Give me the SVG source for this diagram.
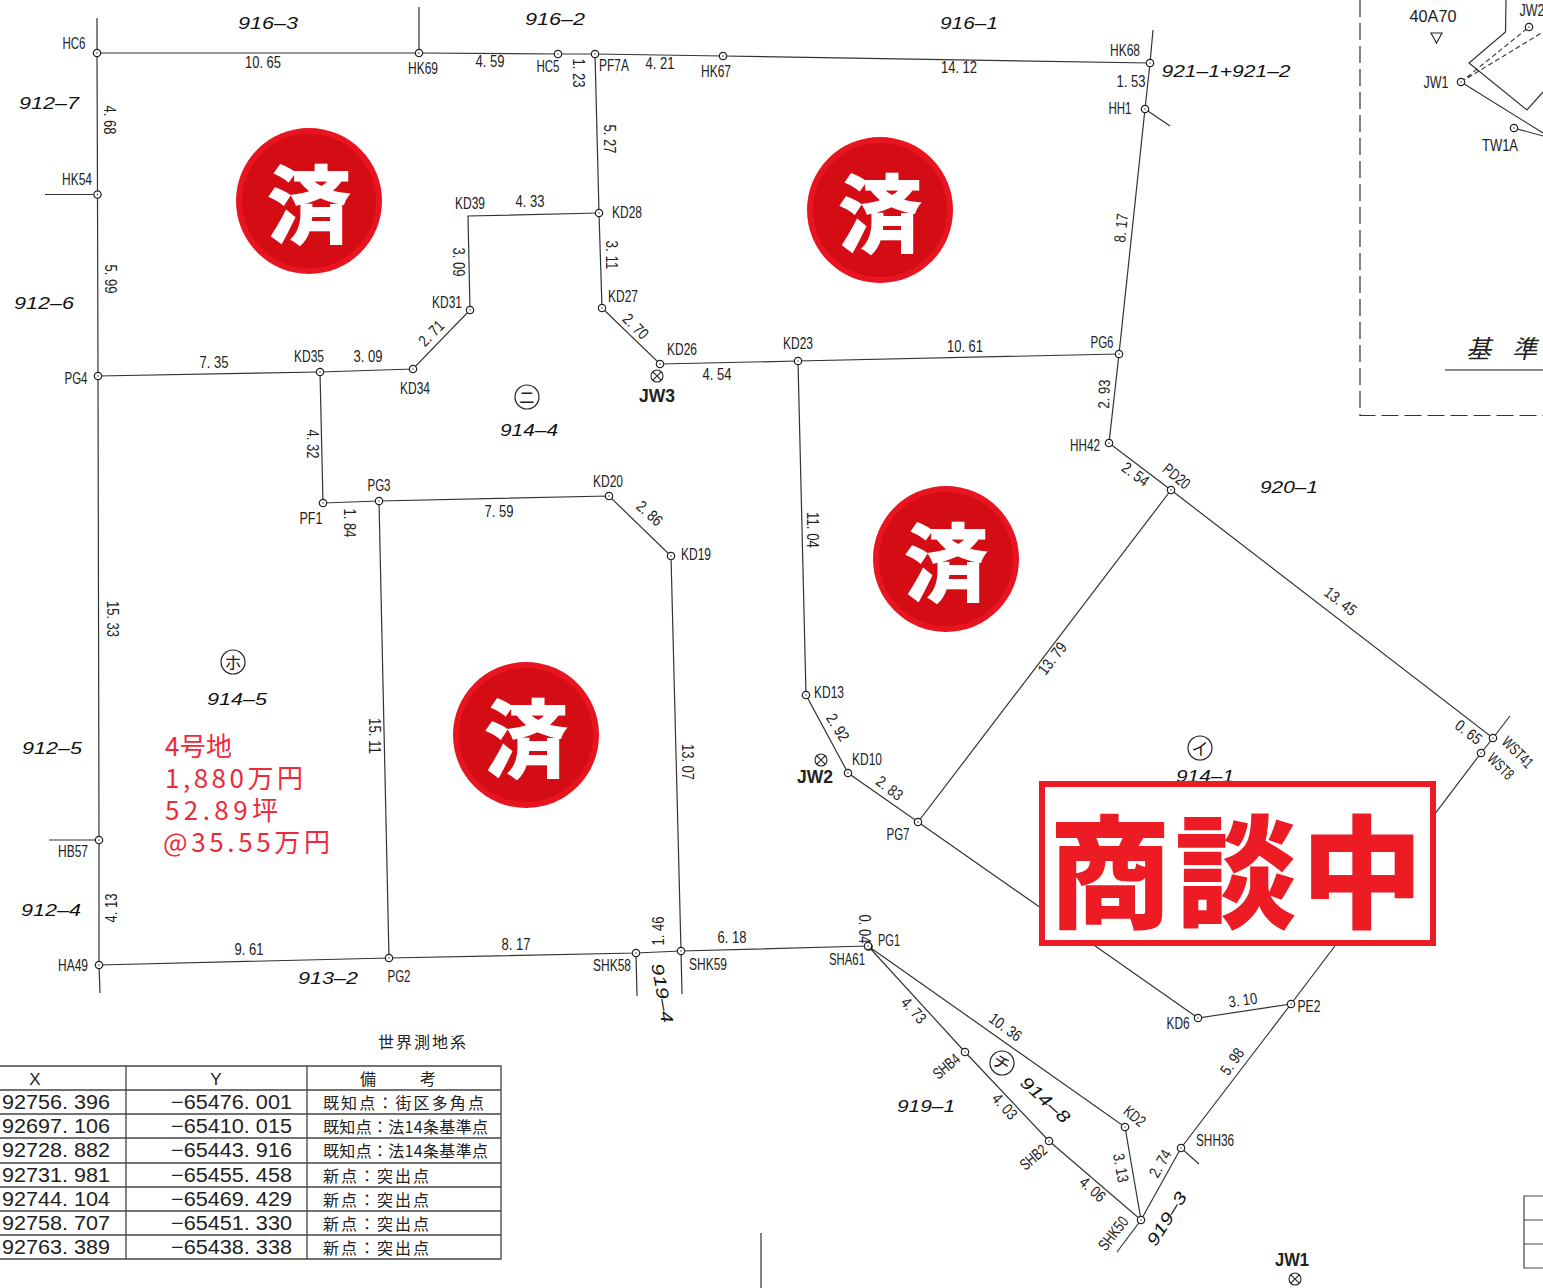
<svg xmlns="http://www.w3.org/2000/svg" xmlns:xlink="http://www.w3.org/1999/xlink" width="1543" height="1288" viewBox="0 0 1543 1288">
<style>
text{font-family:"Liberation Sans","Noto Sans CJK JP",sans-serif;fill:#222;dominant-baseline:central;text-anchor:middle}
.l,.d{font-size:16px;baseline-shift:1px}
.p{font-size:17px;font-style:italic;fill:#111}
.c{fill:none;stroke:#333;stroke-width:1.2}
.o{fill:#fff;stroke:#222;stroke-width:1.2}
.ci{font-size:17px;font-family:"Noto Sans CJK JP",sans-serif}
.cc{fill:#fff;stroke:#222;stroke-width:1.2}
.t{font-size:20px;fill:#222;text-anchor:start}
.r{font-size:16px;font-family:"Noto Sans CJK JP",sans-serif;text-anchor:start}
.red{font-size:26px;fill:#ee2a3a;font-family:"Noto Sans CJK JP",sans-serif;text-anchor:start}
.su{font-size:85px;font-weight:900;fill:#fff;font-family:"Noto Sans CJK JP",sans-serif}
.jw{font-size:18px;font-weight:bold;fill:#222}
.g{stroke:#333;stroke-width:1.2;fill:#fff}
</style>
<defs>
<g id="pt"><circle r="3.7" class="o"/><circle r="0.7" fill="#222"/></g>
<g id="x"><circle r="6" fill="#fff" stroke="#222" stroke-width="1.1"/><path d="M-4.2-4.2 4.2 4.2M-4.2 4.2 4.2-4.2" stroke="#222" stroke-width="1.1"/></g>
<g id="badge"><circle r="73" fill="#e8141f"/><circle r="67" fill="#d40d14"/></g>
</defs>
<rect width="1543" height="1288" fill="#fff"/>

<g id="connectors" class="c">
<polyline class="c" points="97,18 97,53 97.5,194.5 98,376 99,840 99,965 100,993"/>
<polyline class="c" points="97,53 419,53 558,54 595,54 723,56 1150,63"/>
<line class="c" x1="45" y1="194.5" x2="97" y2="194.5"/>
<line class="c" x1="49" y1="840" x2="99" y2="840"/>
<line class="c" x1="419" y1="7" x2="419" y2="53"/>
<polyline class="c" points="1153,30 1150,63 1145,109 1119,354 1109,443 1171,490 1493,738 1481,753 1291,1004 1181,1148 1141,1220 1117,1252"/>
<line class="c" x1="1145" y1="109" x2="1170" y2="126"/>
<line class="c" x1="1493" y1="738" x2="1510" y2="716"/>
<line class="c" x1="1181" y1="1148" x2="1199" y2="1164"/>
<polyline class="c" points="1171,490 918,822 848,773 806,695 798,361 1119,354"/>
<polyline class="c" points="918,822 1198,1018 1291,1004"/>
<polyline class="c" points="798,361 660,364 602,308 599,213 595,54"/>
<polyline class="c" points="599,213 468,216 470,310 413,369 320,372 98,376"/>
<polyline class="c" points="320,372 323,503 379,501 609,496 671,556 681,951 682,994"/>
<polyline class="c" points="379,501 389,958"/>
<polyline class="c" points="99,965 389,958 636,953 681,951 868,946"/>
<line class="c" x1="636" y1="953" x2="637" y2="996"/>
<polyline class="c" points="868,946 965,1052 1049,1141 1141,1220 1125,1127 868,946"/>
<line class="c" x1="761" y1="1233" x2="761" y2="1288"/>
</g>

<g id="nodes">
<g id="n-HC6"><use href="#pt" x="97" y="53"/><text class="l" x="74" y="44" textLength="23" lengthAdjust="spacingAndGlyphs">HC6</text></g>
<g id="n-HK54"><use href="#pt" x="97.5" y="194.5"/><text class="l" x="77" y="180" textLength="30" lengthAdjust="spacingAndGlyphs">HK54</text></g>
<g id="n-PG4"><use href="#pt" x="98" y="376"/><text class="l" x="76" y="379" textLength="23" lengthAdjust="spacingAndGlyphs">PG4</text></g>
<g id="n-HB57"><use href="#pt" x="99" y="840"/><text class="l" x="73" y="852" textLength="30" lengthAdjust="spacingAndGlyphs">HB57</text></g>
<g id="n-HA49"><use href="#pt" x="99" y="965"/><text class="l" x="73" y="966" textLength="30" lengthAdjust="spacingAndGlyphs">HA49</text></g>
<g id="n-HK69"><use href="#pt" x="419" y="53"/><text class="l" x="423" y="69" textLength="30" lengthAdjust="spacingAndGlyphs">HK69</text></g>
<g id="n-HC5"><use href="#pt" x="558" y="54"/><text class="l" x="548" y="67" textLength="23" lengthAdjust="spacingAndGlyphs">HC5</text></g>
<g id="n-PF7A"><use href="#pt" x="595" y="54"/><text class="l" x="614" y="66" textLength="30" lengthAdjust="spacingAndGlyphs">PF7A</text></g>
<g id="n-HK67"><use href="#pt" x="723" y="56"/><text class="l" x="716" y="72" textLength="30" lengthAdjust="spacingAndGlyphs">HK67</text></g>
<g id="n-HK68"><use href="#pt" x="1150" y="63"/><text class="l" x="1125" y="51" textLength="30" lengthAdjust="spacingAndGlyphs">HK68</text></g>
<g id="n-HH1"><use href="#pt" x="1145" y="109"/><text class="l" x="1120" y="109" textLength="23" lengthAdjust="spacingAndGlyphs">HH1</text></g>
<g id="n-PG6"><use href="#pt" x="1119" y="354"/><text class="l" x="1102" y="343" textLength="23" lengthAdjust="spacingAndGlyphs">PG6</text></g>
<g id="n-HH42"><use href="#pt" x="1109" y="443"/><text class="l" x="1085" y="446" textLength="30" lengthAdjust="spacingAndGlyphs">HH42</text></g>
<g id="n-PD20"><use href="#pt" x="1171" y="490"/><text class="l" transform="translate(1176 477) rotate(40)" textLength="30" lengthAdjust="spacingAndGlyphs">PD20</text></g>
<g id="n-WST41"><use href="#pt" x="1493" y="738"/><text class="l" transform="translate(1517 753) rotate(45)" textLength="37" lengthAdjust="spacingAndGlyphs">WST41</text></g>
<g id="n-WST8"><use href="#pt" x="1481" y="753"/><text class="l" transform="translate(1500 767) rotate(45)" textLength="30" lengthAdjust="spacingAndGlyphs">WST8</text></g>
<g id="n-PE2"><use href="#pt" x="1291" y="1004"/><text class="l" x="1309" y="1007" textLength="23" lengthAdjust="spacingAndGlyphs">PE2</text></g>
<g id="n-KD6"><use href="#pt" x="1198" y="1018"/><text class="l" x="1178" y="1024" textLength="23" lengthAdjust="spacingAndGlyphs">KD6</text></g>
<g id="n-PG7"><use href="#pt" x="918" y="822"/><text class="l" x="898" y="835" textLength="23" lengthAdjust="spacingAndGlyphs">PG7</text></g>
<g id="n-KD10"><use href="#pt" x="848" y="773"/><text class="l" x="867" y="760" textLength="30" lengthAdjust="spacingAndGlyphs">KD10</text></g>
<g id="n-KD13"><use href="#pt" x="806" y="695"/><text class="l" x="829" y="693" textLength="30" lengthAdjust="spacingAndGlyphs">KD13</text></g>
<g id="n-KD23"><use href="#pt" x="798" y="361"/><text class="l" x="798" y="344" textLength="30" lengthAdjust="spacingAndGlyphs">KD23</text></g>
<g id="n-KD26"><use href="#pt" x="660" y="364"/><text class="l" x="682" y="350" textLength="30" lengthAdjust="spacingAndGlyphs">KD26</text></g>
<g id="n-KD27"><use href="#pt" x="602" y="308"/><text class="l" x="623" y="297" textLength="30" lengthAdjust="spacingAndGlyphs">KD27</text></g>
<g id="n-KD28"><use href="#pt" x="599" y="213"/><text class="l" x="627" y="213" textLength="30" lengthAdjust="spacingAndGlyphs">KD28</text></g>
<g id="n-KD39"><text class="l" x="470" y="204" textLength="30" lengthAdjust="spacingAndGlyphs">KD39</text></g>
<g id="n-KD31"><use href="#pt" x="470" y="310"/><text class="l" x="447" y="303" textLength="30" lengthAdjust="spacingAndGlyphs">KD31</text></g>
<g id="n-KD34"><use href="#pt" x="413" y="369"/><text class="l" x="415" y="389" textLength="30" lengthAdjust="spacingAndGlyphs">KD34</text></g>
<g id="n-KD35"><use href="#pt" x="320" y="372"/><text class="l" x="309" y="357" textLength="30" lengthAdjust="spacingAndGlyphs">KD35</text></g>
<g id="n-PF1"><use href="#pt" x="323" y="503"/><text class="l" x="311" y="519" textLength="23" lengthAdjust="spacingAndGlyphs">PF1</text></g>
<g id="n-PG3"><use href="#pt" x="379" y="501"/><text class="l" x="379" y="486" textLength="23" lengthAdjust="spacingAndGlyphs">PG3</text></g>
<g id="n-KD20"><use href="#pt" x="609" y="496"/><text class="l" x="608" y="482" textLength="30" lengthAdjust="spacingAndGlyphs">KD20</text></g>
<g id="n-KD19"><use href="#pt" x="671" y="556"/><text class="l" x="696" y="555" textLength="30" lengthAdjust="spacingAndGlyphs">KD19</text></g>
<g id="n-SHK59"><use href="#pt" x="681" y="951"/><text class="l" x="708" y="965" textLength="38" lengthAdjust="spacingAndGlyphs">SHK59</text></g>
<g id="n-SHK58"><use href="#pt" x="636" y="953"/><text class="l" x="612" y="966" textLength="38" lengthAdjust="spacingAndGlyphs">SHK58</text></g>
<g id="n-PG2"><use href="#pt" x="389" y="958"/><text class="l" x="399" y="977" textLength="23" lengthAdjust="spacingAndGlyphs">PG2</text></g>
<g id="n-PG1"><use href="#pt" x="868.5" y="946.5"/><text class="l" x="889" y="941" textLength="22" lengthAdjust="spacingAndGlyphs">PG1</text></g>
<g id="n-SHA61"><use href="#pt" x="868" y="946"/><text class="l" x="847" y="960" textLength="36" lengthAdjust="spacingAndGlyphs">SHA61</text></g>
<g id="n-SHB4"><use href="#pt" x="965" y="1052"/><text class="l" transform="translate(947 1067) rotate(-40)" textLength="30" lengthAdjust="spacingAndGlyphs">SHB4</text></g>
<g id="n-SHB2"><use href="#pt" x="1049" y="1141"/><text class="l" transform="translate(1034 1158) rotate(-40)" textLength="30" lengthAdjust="spacingAndGlyphs">SHB2</text></g>
<g id="n-SHK50"><use href="#pt" x="1141" y="1220"/><text class="l" transform="translate(1114 1234) rotate(-52)" textLength="38" lengthAdjust="spacingAndGlyphs">SHK50</text></g>
<g id="n-KD2"><use href="#pt" x="1125" y="1127"/><text class="l" transform="translate(1134 1117) rotate(40)" textLength="23" lengthAdjust="spacingAndGlyphs">KD2</text></g>
<g id="n-SHH36"><use href="#pt" x="1181" y="1148"/><text class="l" x="1215" y="1141" textLength="38" lengthAdjust="spacingAndGlyphs">SHH36</text></g>
</g>

<g id="dimensions">
<text class="d" x="263" y="63" textLength="36" lengthAdjust="spacingAndGlyphs">10. 65</text>
<text class="d" x="490" y="62" textLength="29" lengthAdjust="spacingAndGlyphs">4. 59</text>
<text class="d" transform="translate(577 73) rotate(90)" textLength="29" lengthAdjust="spacingAndGlyphs">1. 23</text>
<text class="d" x="660" y="64" textLength="29" lengthAdjust="spacingAndGlyphs">4. 21</text>
<text class="d" x="959" y="68" textLength="36" lengthAdjust="spacingAndGlyphs">14. 12</text>
<text class="d" x="1131" y="82" textLength="29" lengthAdjust="spacingAndGlyphs">1. 53</text>
<text class="d" transform="translate(108 120) rotate(90)" textLength="29" lengthAdjust="spacingAndGlyphs">4. 68</text>
<text class="d" transform="translate(109 279) rotate(90)" textLength="29" lengthAdjust="spacingAndGlyphs">5. 99</text>
<text class="d" transform="translate(1122 228) rotate(-84)" textLength="29" lengthAdjust="spacingAndGlyphs">8. 17</text>
<text class="d" transform="translate(608 139) rotate(90)" textLength="29" lengthAdjust="spacingAndGlyphs">5. 27</text>
<text class="d" x="530" y="202" textLength="29" lengthAdjust="spacingAndGlyphs">4. 33</text>
<text class="d" transform="translate(457 262) rotate(90)" textLength="29" lengthAdjust="spacingAndGlyphs">3. 09</text>
<text class="d" transform="translate(610 255) rotate(90)" textLength="29" lengthAdjust="spacingAndGlyphs">3. 11</text>
<text class="d" transform="translate(635 327) rotate(45)" textLength="29" lengthAdjust="spacingAndGlyphs">2. 70</text>
<text class="d" transform="translate(432 334) rotate(-45)" textLength="29" lengthAdjust="spacingAndGlyphs">2. 71</text>
<text class="d" x="214" y="363" textLength="29" lengthAdjust="spacingAndGlyphs">7. 35</text>
<text class="d" x="368" y="357" textLength="29" lengthAdjust="spacingAndGlyphs">3. 09</text>
<text class="d" x="717" y="375" textLength="29" lengthAdjust="spacingAndGlyphs">4. 54</text>
<text class="d" x="965" y="347" textLength="36" lengthAdjust="spacingAndGlyphs">10. 61</text>
<text class="d" transform="translate(1105 394) rotate(-88)" textLength="29" lengthAdjust="spacingAndGlyphs">2. 93</text>
<text class="d" transform="translate(1135 475) rotate(36)" textLength="29" lengthAdjust="spacingAndGlyphs">2. 54</text>
<text class="d" transform="translate(1340 602) rotate(38)" textLength="36" lengthAdjust="spacingAndGlyphs">13. 45</text>
<text class="d" transform="translate(1468 733) rotate(38)" textLength="29" lengthAdjust="spacingAndGlyphs">0. 65</text>
<text class="d" transform="translate(311 444) rotate(90)" textLength="29" lengthAdjust="spacingAndGlyphs">4. 32</text>
<text class="d" transform="translate(348 523) rotate(90)" textLength="29" lengthAdjust="spacingAndGlyphs">1. 84</text>
<text class="d" x="499" y="512" textLength="29" lengthAdjust="spacingAndGlyphs">7. 59</text>
<text class="d" transform="translate(649 514) rotate(42)" textLength="29" lengthAdjust="spacingAndGlyphs">2. 86</text>
<text class="d" transform="translate(811 530) rotate(90)" textLength="36" lengthAdjust="spacingAndGlyphs">11. 04</text>
<text class="d" transform="translate(686 762) rotate(90)" textLength="36" lengthAdjust="spacingAndGlyphs">13. 07</text>
<text class="d" transform="translate(373 736) rotate(90)" textLength="36" lengthAdjust="spacingAndGlyphs">15. 11</text>
<text class="d" transform="translate(111 619) rotate(90)" textLength="36" lengthAdjust="spacingAndGlyphs">15. 33</text>
<text class="d" transform="translate(112 908) rotate(-90)" textLength="29" lengthAdjust="spacingAndGlyphs">4. 13</text>
<text class="d" x="249" y="950" textLength="29" lengthAdjust="spacingAndGlyphs">9. 61</text>
<text class="d" x="516" y="945" textLength="29" lengthAdjust="spacingAndGlyphs">8. 17</text>
<text class="d" transform="translate(659 931) rotate(-90)" textLength="29" lengthAdjust="spacingAndGlyphs">1. 46</text>
<text class="d" x="732" y="938" textLength="29" lengthAdjust="spacingAndGlyphs">6. 18</text>
<text class="d" transform="translate(863 929) rotate(90)" textLength="29" lengthAdjust="spacingAndGlyphs">0. 04</text>
<text class="d" transform="translate(1053 659) rotate(-52)" textLength="36" lengthAdjust="spacingAndGlyphs">13. 79</text>
<text class="d" transform="translate(837 728) rotate(58)" textLength="29" lengthAdjust="spacingAndGlyphs">2. 92</text>
<text class="d" transform="translate(889 789) rotate(38)" textLength="29" lengthAdjust="spacingAndGlyphs">2. 83</text>
<text class="d" transform="translate(1243 1001) rotate(-8)" textLength="29" lengthAdjust="spacingAndGlyphs">3. 10</text>
<text class="d" transform="translate(1233 1062) rotate(-55)" textLength="29" lengthAdjust="spacingAndGlyphs">5. 98</text>
<text class="d" transform="translate(1005 1028) rotate(36)" textLength="36" lengthAdjust="spacingAndGlyphs">10. 36</text>
<text class="d" transform="translate(913 1011) rotate(48)" textLength="29" lengthAdjust="spacingAndGlyphs">4. 73</text>
<text class="d" transform="translate(1004 1107) rotate(48)" textLength="29" lengthAdjust="spacingAndGlyphs">4. 03</text>
<text class="d" transform="translate(1092 1190) rotate(42)" textLength="29" lengthAdjust="spacingAndGlyphs">4. 06</text>
<text class="d" transform="translate(1120 1168) rotate(80)" textLength="29" lengthAdjust="spacingAndGlyphs">3. 13</text>
<text class="d" transform="translate(1161 1164) rotate(-60)" textLength="29" lengthAdjust="spacingAndGlyphs">2. 74</text>
</g>

<g id="parcels">
<text class="p" x="268" y="23" textLength="60" lengthAdjust="spacingAndGlyphs">916–3</text>
<text class="p" x="555" y="19" textLength="60" lengthAdjust="spacingAndGlyphs">916–2</text>
<text class="p" x="969" y="23" textLength="58" lengthAdjust="spacingAndGlyphs">916–1</text>
<text class="p" x="49" y="103" textLength="60" lengthAdjust="spacingAndGlyphs">912–7</text>
<text class="p" x="44" y="303" textLength="60" lengthAdjust="spacingAndGlyphs">912–6</text>
<text class="p" x="1226" y="71" textLength="129" lengthAdjust="spacingAndGlyphs">921–1+921–2</text>
<text class="p" x="1289" y="487" textLength="58" lengthAdjust="spacingAndGlyphs">920–1</text>
<text class="p" x="529" y="430" textLength="58" lengthAdjust="spacingAndGlyphs">914–4</text>
<text class="p" x="237" y="699" textLength="60" lengthAdjust="spacingAndGlyphs">914–5</text>
<text class="p" x="52" y="748" textLength="60" lengthAdjust="spacingAndGlyphs">912–5</text>
<text class="p" x="51" y="910" textLength="60" lengthAdjust="spacingAndGlyphs">912–4</text>
<text class="p" x="328" y="978" textLength="60" lengthAdjust="spacingAndGlyphs">913–2</text>
<text class="p" x="1205" y="776" textLength="58" lengthAdjust="spacingAndGlyphs">914–1</text>
<text class="p" x="926" y="1106" textLength="58" lengthAdjust="spacingAndGlyphs">919–1</text>
<text class="p" transform="translate(662 993) rotate(80)" textLength="60" lengthAdjust="spacingAndGlyphs">919–4</text>
<text class="p" transform="translate(1045 1100) rotate(42)" textLength="60" lengthAdjust="spacingAndGlyphs">914–8</text>
<text class="p" transform="translate(1167 1219) rotate(-58)" textLength="60" lengthAdjust="spacingAndGlyphs">919–3</text>
</g>

<g id="lot-marks">
<circle class="cc" cx="527" cy="397" r="12"/><text class="ci" x="527" y="396">ニ</text>
<circle class="cc" cx="233" cy="662" r="12"/><text class="ci" x="233" y="661">ホ</text>
<circle class="cc" cx="1200" cy="748" r="12"/><text class="ci" x="1200" y="747">イ</text>
<circle class="cc" cx="1002" cy="1063" r="12"/><text class="ci" transform="translate(1002 1062) rotate(35)">チ</text>
<use href="#x" x="657" y="376"/><text class="jw" x="657" y="396" textLength="36" lengthAdjust="spacingAndGlyphs">JW3</text>
<use href="#x" x="821" y="760"/><text class="jw" x="815" y="777" textLength="36" lengthAdjust="spacingAndGlyphs">JW2</text>
<use href="#x" x="1295" y="1279"/><text class="jw" x="1292" y="1260" textLength="34" lengthAdjust="spacingAndGlyphs">JW1</text>
</g>

<g id="price">
<text class="red" x="165" y="744" textLength="67" lengthAdjust="spacing">4号地</text>
<text class="red" x="165" y="776" textLength="138" lengthAdjust="spacing">1,880万円</text>
<text class="red" x="165" y="808" textLength="113" lengthAdjust="spacing">52.89坪</text>
<text class="red" x="163" y="840" textLength="167" lengthAdjust="spacing">@35.55万円</text>
</g>

<g id="survey-table">
<text class="r" x="378" y="1041" textLength="88" lengthAdjust="spacing">世界測地系</text>
<path d="M0 1066H501V1259H0M126 1066V1259M307 1066V1259M501 1066V1259M0 1090H501M0 1114H501M0 1138H501M0 1163H501M0 1187H501M0 1211H501M0 1235H501" fill="none" stroke="#444" stroke-width="1.3"/>
<text x="35" y="1079" style="font-size:17px">X</text>
<text x="216" y="1079" style="font-size:17px">Y</text>
<text class="r" x="360" y="1078" textLength="76" lengthAdjust="spacing">備　　考</text>
<text class="t" x="2" y="1102" textLength="108" lengthAdjust="spacingAndGlyphs">92756. 396</text>
<text class="t" x="2" y="1126" textLength="108" lengthAdjust="spacingAndGlyphs">92697. 106</text>
<text class="t" x="2" y="1150" textLength="108" lengthAdjust="spacingAndGlyphs">92728. 882</text>
<text class="t" x="2" y="1174.500" textLength="108" lengthAdjust="spacingAndGlyphs">92731. 981</text>
<text class="t" x="2" y="1199" textLength="108" lengthAdjust="spacingAndGlyphs">92744. 104</text>
<text class="t" x="2" y="1223" textLength="108" lengthAdjust="spacingAndGlyphs">92758. 707</text>
<text class="t" x="2" y="1247" textLength="108" lengthAdjust="spacingAndGlyphs">92763. 389</text>
<text class="t" x="171" y="1102" textLength="121" lengthAdjust="spacingAndGlyphs">−65476. 001</text>
<text class="t" x="171" y="1126" textLength="121" lengthAdjust="spacingAndGlyphs">−65410. 015</text>
<text class="t" x="171" y="1150" textLength="121" lengthAdjust="spacingAndGlyphs">−65443. 916</text>
<text class="t" x="171" y="1174.500" textLength="121" lengthAdjust="spacingAndGlyphs">−65455. 458</text>
<text class="t" x="171" y="1199" textLength="121" lengthAdjust="spacingAndGlyphs">−65469. 429</text>
<text class="t" x="171" y="1223" textLength="121" lengthAdjust="spacingAndGlyphs">−65451. 330</text>
<text class="t" x="171" y="1247" textLength="121" lengthAdjust="spacingAndGlyphs">−65438. 338</text>
<text class="r" x="323" y="1102" textLength="161" lengthAdjust="spacing">既知点：街区多角点</text>
<text class="r" x="323" y="1126" textLength="165" lengthAdjust="spacing">既知点：法14条基準点</text>
<text class="r" x="323" y="1150" textLength="165" lengthAdjust="spacing">既知点：法14条基準点</text>
<text class="r" x="323" y="1175" textLength="106" lengthAdjust="spacing">新点：突出点</text>
<text class="r" x="323" y="1199" textLength="106" lengthAdjust="spacing">新点：突出点</text>
<text class="r" x="323" y="1223" textLength="106" lengthAdjust="spacing">新点：突出点</text>
<text class="r" x="323" y="1247" textLength="106" lengthAdjust="spacing">新点：突出点</text>
</g>

<g id="small-table">
<path d="M1543 1196H1524V1268H1543M1524 1220H1543M1524 1244H1543" fill="none" stroke="#444" stroke-width="1.2"/>
</g>

<g id="inset">
<path d="M1360 0V415.500H1543" fill="none" stroke="#333" stroke-width="1.2" stroke-dasharray="17 6"/>
<path d="M1445 370H1543" stroke="#666" stroke-width="1.5"/>
<text class="r" x="1466" y="347" style="font-size:25px;font-style:italic" textLength="71" lengthAdjust="spacing">基 準</text>
<text class="l" x="1433" y="17" textLength="47" lengthAdjust="spacingAndGlyphs">40A70</text>
<path d="M1431 33H1442L1436.500 43Z" fill="#fff" stroke="#222" stroke-width="1.1"/>
<text class="l" x="1436" y="83" textLength="25" lengthAdjust="spacingAndGlyphs">JW1</text>
<text class="l" x="1500" y="146" textLength="36" lengthAdjust="spacingAndGlyphs">TW1A</text>
<text class="l" x="1532" y="11" textLength="25" lengthAdjust="spacingAndGlyphs">JW2</text>
<polyline class="c" points="1506,0 1505.500,32 1469,63 1527,110 1543,92"/>
<path d="M1461 82 1529 27M1461 82 1543 32" fill="none" stroke="#333" stroke-width="1.1" stroke-dasharray="5 3"/>
<path d="M1461 82 1543 133M1514 128 1543 136" fill="none" stroke="#333" stroke-width="1.1"/>
<use href="#pt" x="1461" y="82"/>
<use href="#pt" x="1529" y="27"/>
<use href="#pt" x="1514" y="128"/>
</g>

<g id="badge-1"><use href="#badge" x="309" y="201"/><text class="su" x="309" y="199">済</text></g>
<g id="badge-2"><use href="#badge" x="880" y="210"/><text class="su" x="880" y="208">済</text></g>
<g id="badge-3"><use href="#badge" x="946" y="559"/><text class="su" x="946" y="557">済</text></g>
<g id="badge-4"><use href="#badge" x="526" y="735"/><text class="su" x="526" y="733">済</text></g>

<g id="negotiating">
<rect x="1042" y="784" width="391" height="159" fill="#fff" stroke="#ed1c24" stroke-width="6"/>
<text x="1049" y="864" style="text-anchor:start;font-family:'Noto Sans CJK JP',sans-serif;font-weight:900;font-size:122px;fill:#ed1c24" textLength="374" lengthAdjust="spacing">商談中</text>
</g>
</svg>
